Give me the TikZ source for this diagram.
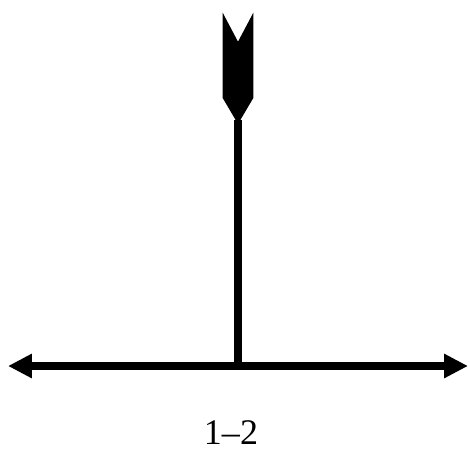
\documentclass[tikz,border=0pt]{standalone}
\usepackage{fontspec}
\setmainfont{Liberation Serif}
\usepackage{tikz}
\usetikzlibrary{arrows.meta}
\tikzset{
  axis/.style={{Triangle[length=0.48cm, width=0.46cm]}-{Triangle[length=0.48cm, width=0.46cm]},
    line width=0.16cm, draw=black},
  shaft/.style={line width=0.16cm, draw=black},
  fletch/.style={fill=black, draw=none},
  caption/.style={font=\fontsize{20.5}{24}\selectfont, inner sep=0pt}
}

\begin{document}
\begin{tikzpicture}[x=0.02cm, y=-0.02cm]
  \useasboundingbox (0,0) rectangle (470,450);

  % Horizontal double-headed axis.
  \coordinate (left) at (8,366);
  \coordinate (right) at (468,366);
  \coordinate (foot) at (238,366);
  \draw[axis] (left) -- (right);

  % Fletched tail on top of the vertical shaft.
  \coordinate (tail) at (238,120);
  \fill[fletch] (222.7,12.7) -- (238,41.7) -- (253.3,12.7) -- (253.3,98)
    -- (238,124) -- (222.7,98) -- cycle;
  \draw[shaft] (foot) -- (tail);

  \node[caption] (lbl) at (231,433) {1--2};
\end{tikzpicture}
\end{document}
